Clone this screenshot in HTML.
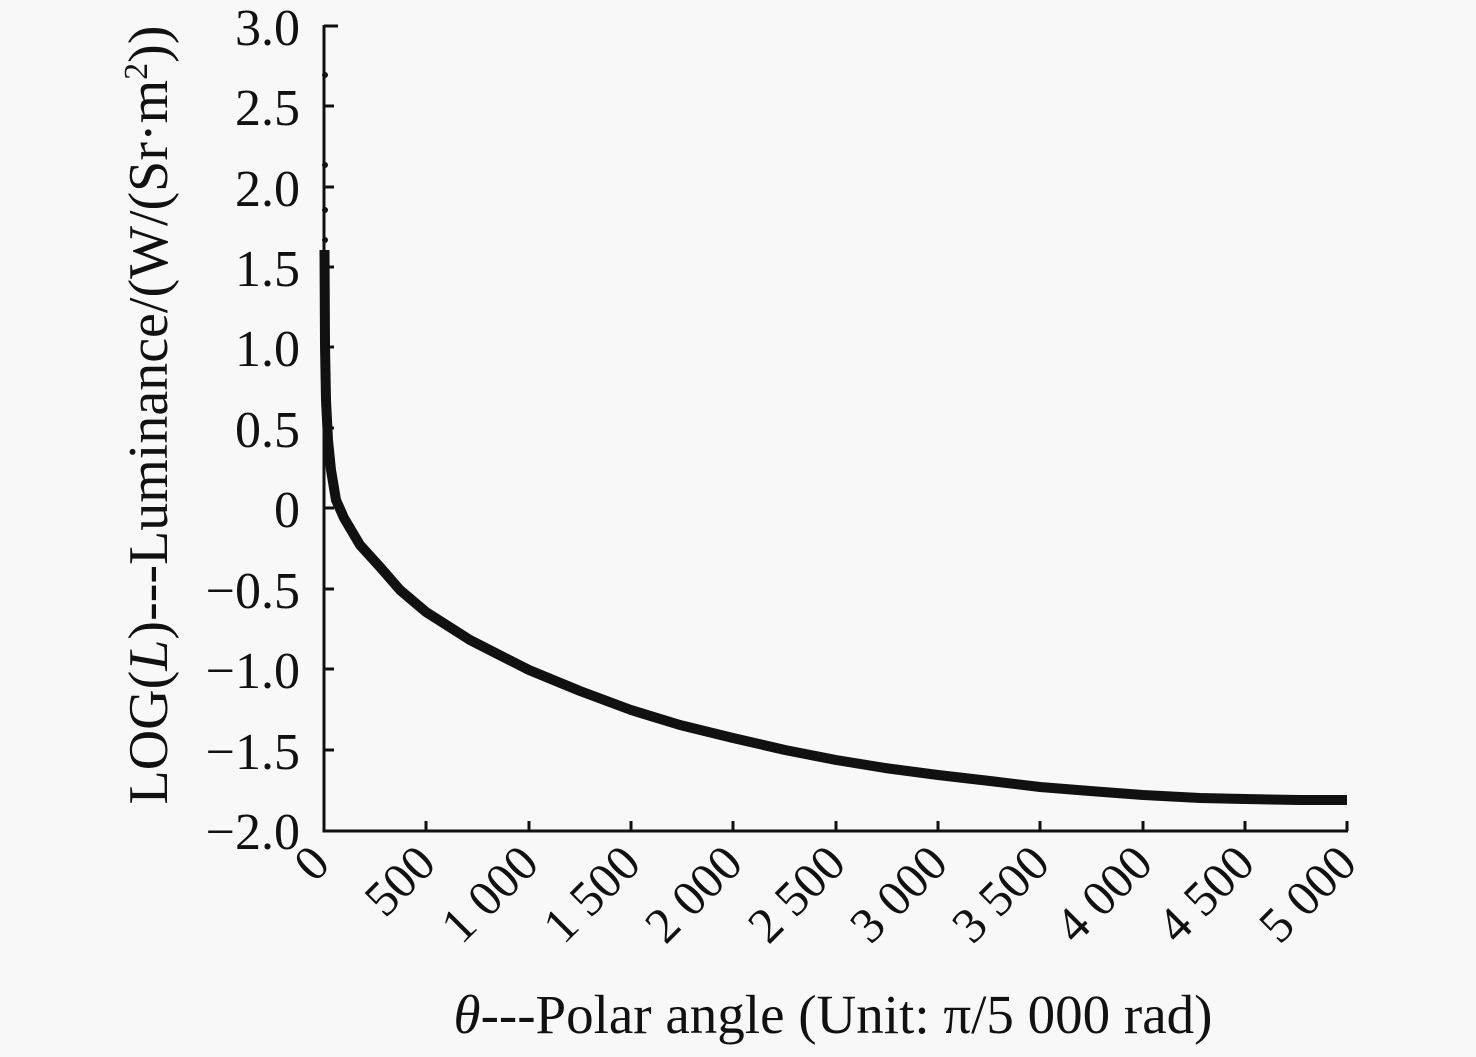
<!DOCTYPE html><html><head><style>body{margin:0;background:#f8f8f8}</style></head><body>
<svg width="1476" height="1052" xmlns="http://www.w3.org/2000/svg" font-family="Liberation Serif, serif" fill="#111">
<rect width="1476" height="1052" fill="#f8f8f8"/>
<g stroke="#111" stroke-width="3" fill="none">
<path d="M324,25V831H1348"/>
<path d="M324,26h14M324,106h10M324,187h10M324,267h10M324,347h10M324,428h10M324,508h10M324,589h10M324,669h10M324,750h10"/>
<path d="M426,831v-10M529,831v-10M631,831v-10M733,831v-10M836,831v-10M938,831v-10M1040,831v-10M1143,831v-10M1245,831v-10M1347,831v-10"/>
</g>
<path d="M324.5,250 L325,345 L326,400 L328,440 L331,470 L336,500 L344,518 L360,545 L380,567 L400,590 L426,612 L470,640 L529,670 L580,691 L631,710 L680,725 L733,738 L785,750 L836,760 L885,768 L938,775 L990,781 L1040,787 L1090,791 L1143,795 L1200,798 L1245,799 L1300,800 L1347,800" stroke="#111" stroke-width="10" fill="none" stroke-linejoin="round"/>
<g fill="#111"><circle cx="325" cy="75" r="3"/><circle cx="325" cy="165" r="3"/><circle cx="325" cy="210" r="3"/><circle cx="325" cy="240" r="3"/><circle cx="325" cy="265" r="3"/></g>
<g font-size="52" text-anchor="end">
<text x="300" y="45">3.0</text><text x="300" y="125">2.5</text><text x="300" y="206">2.0</text><text x="300" y="286">1.5</text><text x="300" y="366">1.0</text><text x="300" y="447">0.5</text><text x="300" y="527">0</text><text x="300" y="608">−0.5</text><text x="300" y="688">−1.0</text><text x="300" y="769">−1.5</text><text x="300" y="849">−2.0</text>
</g>
<g font-size="50" text-anchor="end">
<text transform="translate(332,866) rotate(-45)">0</text>
<text transform="translate(438,866) rotate(-45)">500</text>
<text transform="translate(541,866) rotate(-45)">1 000</text>
<text transform="translate(643,866) rotate(-45)">1 500</text>
<text transform="translate(745,866) rotate(-45)">2 000</text>
<text transform="translate(848,866) rotate(-45)">2 500</text>
<text transform="translate(950,866) rotate(-45)">3 000</text>
<text transform="translate(1052,866) rotate(-45)">3 500</text>
<text transform="translate(1155,866) rotate(-45)">4 000</text>
<text transform="translate(1257,866) rotate(-45)">4 500</text>
<text transform="translate(1359,866) rotate(-45)">5 000</text>
</g>
<text x="833" y="1033" font-size="55" text-anchor="middle"><tspan font-style="italic">θ</tspan>---Polar angle (Unit: π/5 000 rad)</text>
<text transform="translate(167,415) rotate(-90)" font-size="56" text-anchor="middle">LOG(<tspan font-style="italic">L</tspan>)---Luminance/(W/(Sr·m<tspan font-size="34" dy="-20">2</tspan><tspan dy="20">))</tspan></text>
</svg>
</body></html>
